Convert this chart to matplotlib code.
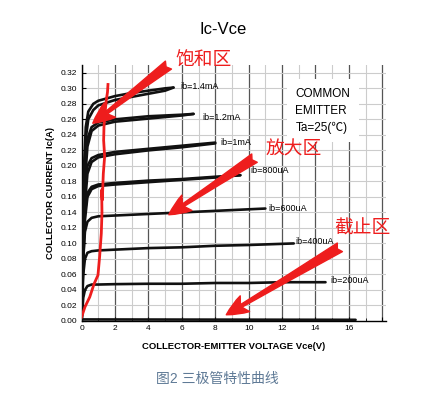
import matplotlib
matplotlib.use("Agg")
import numpy as np
from matplotlib import pyplot as plt

plt.rcParams['font.family'] = ['Liberation Sans', 'Noto Sans CJK SC', 'DejaVu Sans']

# Ic-Vce traces (Vce in V, Ic in A)
ib14_v = [0, 0.08, 0.15, 0.25, 0.4, 0.7, 1.0, 2.0, 3.0, 4.0, 5.0, 5.5]
ib14_a = [0, 0.12, 0.20, 0.25, 0.27, 0.280, 0.284, 0.290, 0.294, 0.297, 0.300, 0.301]
ib14_b = [0, 0.10, 0.18, 0.235, 0.26, 0.272, 0.278, 0.285, 0.289, 0.293, 0.297, 0.301]

ib12_v = [0, 0.1, 0.2, 0.35, 0.6, 1.0, 2.0, 3.0, 4.0, 5.0, 6.0, 6.7]
ib12_a = [0, 0.12, 0.20, 0.235, 0.250, 0.256, 0.260, 0.262, 0.264, 0.265, 0.266, 0.267]
ib12_b = [0, 0.10, 0.18, 0.225, 0.245, 0.252, 0.257, 0.259, 0.261, 0.263, 0.265, 0.267]

ib10_v = [0, 0.1, 0.2, 0.35, 0.6, 1.0, 2.0, 4.0, 6.0, 8.0]
ib10_a = [0, 0.10, 0.17, 0.200, 0.210, 0.214, 0.218, 0.222, 0.226, 0.230]
ib10_b = [0, 0.09, 0.15, 0.190, 0.205, 0.211, 0.215, 0.220, 0.224, 0.229]

ib08_v = [0, 0.1, 0.2, 0.35, 0.6, 1.0, 2.0, 4.0, 6.0, 8.0, 9.5]
ib08_a = [0, 0.09, 0.14, 0.165, 0.173, 0.176, 0.178, 0.181, 0.183, 0.186, 0.188]
ib08_b = [0, 0.08, 0.13, 0.160, 0.170, 0.174, 0.176, 0.179, 0.182, 0.185, 0.188]

ib06_v = [0, 0.1, 0.2, 0.35, 0.6, 1.0, 2.0, 4.0, 6.0, 8.0, 10.0, 11.0]
ib06_a = [0, 0.08, 0.115, 0.128, 0.133, 0.135, 0.136, 0.138, 0.140, 0.142, 0.144, 0.145]

ib04_v = [0, 0.1, 0.2, 0.35, 0.6, 1.0, 2.0, 4.0, 6.0, 8.0, 10.0, 12.7]
ib04_a = [0, 0.06, 0.08, 0.088, 0.090, 0.091, 0.092, 0.094, 0.095, 0.097, 0.098, 0.100]

ib02_v = [0, 0.1, 0.2, 0.35, 0.6, 1.0, 2.0, 4.0, 6.0, 8.0, 10.0, 12.0, 14.6]
ib02_a = [0, 0.03, 0.04, 0.045, 0.047, 0.047, 0.0475, 0.048, 0.048, 0.049, 0.049, 0.050, 0.050]

ib00_v = [0, 16.4]
ib00_a = [0.002, 0.0015]

# red saturation boundary
sat_v = [0.0, 0.2, 0.49, 0.75, 0.98, 1.08, 1.18, 1.22, 1.20, 1.24, 1.30, 1.38, 1.32, 1.34, 1.38, 1.48, 1.55, 1.58]
sat_a = [0.005, 0.018, 0.031, 0.048, 0.059, 0.083, 0.113, 0.140, 0.169, 0.156, 0.190, 0.212, 0.233, 0.250, 0.263, 0.285, 0.295, 0.305]

# curve labels
ib_names = ["ib=1.4mA", "ib=1.2mA", "ib=1mA", "ib=800uA", "ib=600uA", "ib=400uA", "ib=200uA"]
ib_lbl_x = [5.9, 7.2, 8.3, 10.1, 11.2, 12.8, 14.9]
ib_lbl_y = [0.302, 0.263, 0.230, 0.194, 0.145, 0.102, 0.052]

# region annotations: text, text position, arrow tail, arrow tip
zones     = ["饱和区", "放大区", "截止区"]
zone_xy   = [(7.3, 0.335), (12.7, 0.220), (16.8, 0.119)]
zone_tail = [(5.2, 0.330), (10.35, 0.210), (15.46, 0.095)]
zone_tip  = [(0.67, 0.255), (5.22, 0.137), (8.66, 0.008)]

RED = "#ee1d1d"

fig = plt.figure(figsize=(4.41, 3.98), dpi=100)
ax = fig.add_axes([0.185, 0.1935, 0.6895, 0.643])

# grid
for v in range(0, 19):
    if v % 2 == 0:
        ax.axvline(v, color="#555555", lw=0.9, zorder=0)
    else:
        ax.axvline(v, color="#cccccc", lw=0.8, zorder=0)
for i in np.arange(0.02, 0.33, 0.02):
    ax.axhline(i, color="#cccccc", lw=0.8, zorder=0)

# curves
for v, a in [(ib14_v, ib14_a), (ib14_v, ib14_b), (ib12_v, ib12_a), (ib12_v, ib12_b),
             (ib10_v, ib10_a), (ib10_v, ib10_b), (ib08_v, ib08_a), (ib08_v, ib08_b),
             (ib06_v, ib06_a), (ib04_v, ib04_a), (ib02_v, ib02_a), (ib00_v, ib00_a)]:
    ax.plot(v, a, color="#111111", lw=1.9, solid_capstyle="round", zorder=3)

ax.plot(sat_v, sat_a, color=RED, lw=2.0, zorder=4)

for name, x, y in zip(ib_names, ib_lbl_x, ib_lbl_y):
    ax.text(x, y, name, fontsize=6.5, va="center", ha="left", zorder=5)

ax.text(12.8, 0.301, "COMMON\nEMITTER\nTa=25(℃)", fontsize=8.5, va="top", ha="left",
        linespacing=1.55, zorder=5,
        bbox=dict(facecolor="white", edgecolor="none", pad=6))

for name, xy, tail, tip in zip(zones, zone_xy, zone_tail, zone_tip):
    ax.annotate("", xy=tip, xytext=tail,
                arrowprops=dict(arrowstyle="fancy,head_length=1.3,head_width=1.1,tail_width=0.6",
                                color=RED, mutation_scale=12, shrinkA=0, shrinkB=0),
                annotation_clip=False, zorder=6)
    ax.text(xy[0], xy[1], name, fontsize=13.5, color=RED, ha="center", va="center",
            clip_on=False, zorder=6)

ax.set_xlim(0, 18.2)
ax.set_ylim(0, 0.33)
ax.set_xticks(range(0, 19, 2))
ax.set_xticklabels([str(v) for v in range(0, 17, 2)] + [""])
ax.set_xticks(range(1, 18, 2), minor=True)
ax.set_yticks(np.arange(0, 0.321, 0.02))
ax.set_yticklabels(["%.2f" % v for v in np.arange(0, 0.321, 0.02)])
ax.tick_params(direction="in", labelsize=6, length=3, width=0.8, pad=3)
ax.tick_params(which="minor", direction="in", length=2, width=0.6)
for s in ["top", "right"]:
    ax.spines[s].set_visible(False)
for s in ["left", "bottom"]:
    ax.spines[s].set_linewidth(1.0)

ax.set_xlabel("COLLECTOR-EMITTER VOLTAGE Vce(V)", fontsize=6.8, fontweight="bold", labelpad=7)
ax.set_ylabel("COLLECTOR CURRENT Ic(A)", fontsize=6.8, fontweight="bold", labelpad=4)

fig.text(0.506, 0.927, "Ic-Vce", fontsize=12, ha="center", va="center")
fig.text(0.493, 0.048, "图2 三极管特性曲线", fontsize=10, ha="center", va="center", color="#5f7a96")

fig.savefig("out.png", dpi=100)
